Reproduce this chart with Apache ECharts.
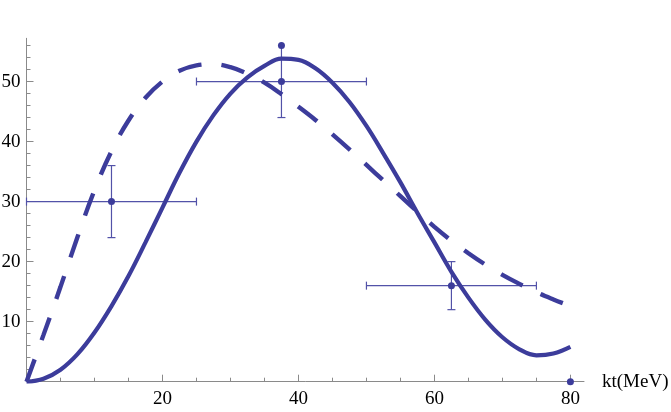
<!DOCTYPE html>
<html>
<head>
  <meta charset="UTF-8">
  <title>kt spectrum</title>
  <style>
    html, body { margin: 0; padding: 0; background: #fff; }
    #chart { width: 671px; height: 412px; }
  </style>
</head>
<body>
  <div id="chart"></div>
  <script src="https://cdn.jsdelivr.net/npm/echarts@6/dist/echarts.min.js"></script>
  <script>
    // curves, sampled every 2.5 MeV
    const curveX = [0, 2.5, 5, 7.5, 10, 12.5, 15, 17.5, 20, 22.5, 25, 27.5, 30, 32.5, 35, 37.5, 40,
                    42.5, 45, 47.5, 50, 52.5, 55, 57.5, 60, 62.5, 65, 67.5, 70, 72.5, 75, 77.5, 80];
    const solidY = [0, 0.5, 2.0, 4.6, 8.2, 12.6, 17.6, 23.2, 29.0, 34.8, 40.0, 44.4, 48.0, 50.7, 52.6, 53.8, 53.6,
                    52.2, 49.8, 46.6, 42.6, 38.0, 33.2, 28.1, 23.2, 18.3, 14.0, 10.3, 7.4, 5.4, 4.4, 4.7, 5.8];
    const dashedY = [0, 7.8, 15.8, 24.1, 31.9, 38.4, 43.5, 47.3, 50.0, 51.8, 52.7, 52.9, 52.4, 51.3, 49.8, 47.9, 45.8,
                     43.6, 41.2, 38.7, 36.1, 33.5, 30.9, 28.3, 25.8, 23.5, 21.4, 19.5, 17.8, 16.3, 14.9, 13.7, 12.6];

    // measured points with error bars
    const pointX = [12.5, 37.5, 62.5];
    const pointY = [30, 50, 16];
    const xErrLow = [0, 25, 50];
    const xErrHigh = [25, 50, 75];
    const yErrLow = [24, 44, 12];
    const yErrHigh = [36, 56, 20];
    // lone dots
    const extraX = [37.5, 80];
    const extraY = [56, 0];

    // ticks
    const xMinorTicks = [5, 10, 15, 25, 30, 35, 45, 50, 55, 65, 70, 75];
    const xMajorTicks = [20, 40, 60, 80];
    const yMinorTicks = [2, 4, 6, 8, 12, 14, 16, 18, 22, 24, 26, 28, 32, 34, 36, 38, 42, 44, 46, 48, 52, 54, 56];
    const yMajorTicks = [10, 20, 30, 40, 50];

    const blue = '#3c3c9b';
    const barBlue = '#5252a8';
    const axisGray = '#8a8a8a';
    const font = '"Liberation Serif", "DejaVu Serif", serif';
    const fontSize = 19;

    const chart = echarts.init(document.getElementById('chart'));

    const xBase = { type: 'value', min: 0, max: 82, gridIndex: 0, position: 'bottom', splitLine: { show: false } };
    const yBase = { type: 'value', min: 0, max: 57.2, gridIndex: 0, position: 'left', splitLine: { show: false } };

    const errData = pointX.map((x, i) => [x, pointY[i], xErrLow[i], xErrHigh[i], yErrLow[i], yErrHigh[i]]);

    function hasDot(x, y) {
      return extraX.some((ex, j) => ex === x && extraY[j] === y);
    }

    chart.setOption({
      animation: false,
      grid: { left: 26.5, right: 87, top: 38.3, bottom: 30.3, containLabel: false, outerBoundsMode: 'none' },
      xAxis: [
        Object.assign({}, xBase, {
          axisLine: { show: true, onZero: false, lineStyle: { color: axisGray, width: 1 } },
          axisTick: { show: true, inside: true, length: 4, customValues: xMinorTicks, lineStyle: { color: axisGray, width: 1 } },
          axisLabel: { show: true, customValues: xMajorTicks, margin: 8, color: '#000', fontFamily: font, fontSize: fontSize },
          name: 'kt(MeV)', nameLocation: 'end', nameGap: 18,
          nameTextStyle: { color: '#000', fontFamily: font, fontSize: fontSize, align: 'left', verticalAlign: 'middle' }
        }),
        Object.assign({}, xBase, {
          offset: 0,
          axisLine: { show: false, onZero: false },
          axisTick: { show: true, inside: true, length: 7, customValues: xMajorTicks, lineStyle: { color: axisGray, width: 1 } },
          axisLabel: { show: false }
        })
      ],
      yAxis: [
        Object.assign({}, yBase, {
          axisLine: { show: true, onZero: false, lineStyle: { color: axisGray, width: 1 } },
          axisTick: { show: true, inside: true, length: 4, customValues: yMinorTicks, lineStyle: { color: axisGray, width: 1 } },
          axisLabel: { show: true, customValues: yMajorTicks, margin: 6, color: '#000', fontFamily: font, fontSize: fontSize }
        }),
        Object.assign({}, yBase, {
          offset: 0,
          axisLine: { show: false, onZero: false },
          axisTick: { show: true, inside: true, length: 7, customValues: yMajorTicks, lineStyle: { color: axisGray, width: 1 } },
          axisLabel: { show: false }
        })
      ],
      series: [
        {
          type: 'custom',
          name: 'errors',
          xAxisIndex: 0, yAxisIndex: 0,
          data: errData,
          encode: { x: [0, 2, 3], y: [1, 4, 5] },
          z: 2,
          renderItem: function (params, api) {
            const x = api.value(0), y = api.value(1);
            const xl = api.coord([api.value(2), y]);
            const xh = api.coord([api.value(3), y]);
            const yl = api.coord([x, api.value(4)]);
            const yh = api.coord([x, api.value(5)]);
            const c = 4;
            const style = { stroke: barBlue, lineWidth: 1.2, fill: null };
            const kids = [
              { type: 'line', shape: { x1: xl[0], y1: xl[1], x2: xh[0], y2: xh[1] }, style },
              { type: 'line', shape: { x1: yl[0], y1: yl[1], x2: yh[0], y2: yh[1] }, style },
              { type: 'line', shape: { x1: xl[0], y1: xl[1] - c, x2: xl[0], y2: xl[1] + c }, style },
              { type: 'line', shape: { x1: xh[0], y1: xh[1] - c, x2: xh[0], y2: xh[1] + c }, style }
            ];
            if (!hasDot(x, api.value(4))) {
              kids.push({ type: 'line', shape: { x1: yl[0] - c, y1: yl[1], x2: yl[0] + c, y2: yl[1] }, style });
            }
            if (!hasDot(x, api.value(5))) {
              kids.push({ type: 'line', shape: { x1: yh[0] - c, y1: yh[1], x2: yh[0] + c, y2: yh[1] }, style });
            }
            return { type: 'group', children: kids };
          }
        },
        {
          type: 'scatter',
          name: 'points',
          data: pointX.map((x, i) => [x, pointY[i]]).concat(extraX.map((x, i) => [x, extraY[i]])),
          symbol: 'circle',
          symbolSize: 7,
          itemStyle: { color: blue, opacity: 1 },
          z: 3
        },
        {
          type: 'line',
          name: 'solid',
          data: curveX.map((x, i) => [x, solidY[i]]),
          smooth: 0.4,
          showSymbol: false,
          lineStyle: { color: blue, width: 4.2 },
          z: 4
        },
        {
          type: 'line',
          name: 'dashed',
          data: curveX.map((x, i) => [x, dashedY[i]]),
          smooth: 0.4,
          showSymbol: false,
          lineStyle: { color: blue, width: 4.4, type: [24, 20] },
          z: 4
        }
      ]
    });
  </script>
</body>
</html>
